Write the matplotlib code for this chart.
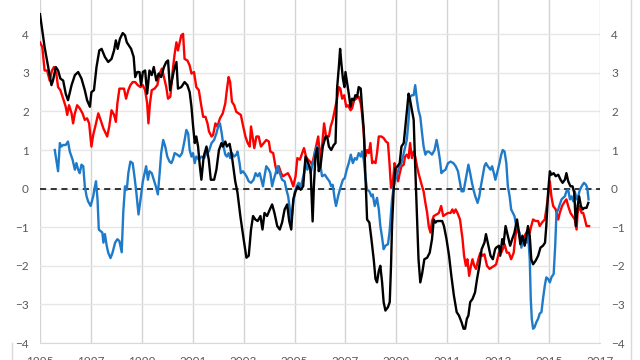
import matplotlib
matplotlib.use("Agg")
import matplotlib.pyplot as plt
from matplotlib.lines import Line2D

# values (decimal year, value)
black_x = [1995.00, 1995.18, 1995.32, 1995.45, 1995.51, 1995.62, 1995.71, 1995.80, 1995.91, 1996.01,
           1996.10, 1996.24, 1996.37, 1996.50, 1996.63, 1996.76, 1996.85, 1996.96, 1997.02, 1997.12,
           1997.22, 1997.33, 1997.42, 1997.55, 1997.68, 1997.81, 1997.91, 1997.98, 1998.05, 1998.14,
           1998.25, 1998.34, 1998.41, 1998.58, 1998.68, 1998.74, 1998.82, 1998.91, 1998.97, 1999.04,
           1999.13, 1999.21, 1999.30, 1999.39, 1999.47, 1999.57, 1999.66, 1999.76, 1999.87, 1999.96,
           2000.03, 2000.11, 2000.16, 2000.26, 2000.36, 2000.42, 2000.55, 2000.68, 2000.79, 2000.88,
           2000.95, 2001.01, 2001.08, 2001.14, 2001.21, 2001.28, 2001.34, 2001.43, 2001.54, 2001.63,
           2001.71, 2001.84, 2001.93, 2002.03, 2002.13, 2002.18, 2002.28, 2002.34, 2002.45, 2002.54,
           2002.67, 2002.76, 2002.87, 2003.00, 2003.11, 2003.20, 2003.29, 2003.37, 2003.46, 2003.55,
           2003.66, 2003.74, 2003.82, 2003.92, 2004.03, 2004.12, 2004.21, 2004.32, 2004.42, 2004.51,
           2004.61, 2004.71, 2004.79, 2004.87, 2004.95, 2005.04, 2005.13, 2005.24, 2005.34, 2005.43,
           2005.53, 2005.63, 2005.71, 2005.76, 2005.82, 2005.89, 2005.95, 2006.02, 2006.11, 2006.22,
           2006.28, 2006.35, 2006.44, 2006.54, 2006.61, 2006.67, 2006.74, 2006.79, 2006.84, 2006.90,
           2006.96, 2007.00, 2007.07, 2007.13, 2007.20, 2007.26, 2007.33, 2007.39, 2007.46, 2007.52,
           2007.60, 2007.65, 2007.72, 2007.78, 2007.85, 2007.94, 2008.02, 2008.11, 2008.18, 2008.24,
           2008.31, 2008.37, 2008.44, 2008.50, 2008.57, 2008.67, 2008.74, 2008.79, 2008.83, 2008.90,
           2008.96, 2009.05, 2009.13, 2009.20, 2009.29, 2009.38, 2009.48, 2009.54, 2009.61, 2009.68,
           2009.74, 2009.81, 2009.87, 2009.94, 2010.01, 2010.10, 2010.21, 2010.31, 2010.40, 2010.47,
           2010.54, 2010.60, 2010.71, 2010.80, 2010.87, 2010.97, 2011.07, 2011.16, 2011.26, 2011.37,
           2011.46, 2011.56, 2011.64, 2011.70, 2011.77, 2011.83, 2011.90, 2011.99, 2012.09, 2012.17,
           2012.26, 2012.35, 2012.46, 2012.52, 2012.59, 2012.70, 2012.79, 2012.88, 2012.92, 2013.03,
           2013.08, 2013.16, 2013.21, 2013.29, 2013.38, 2013.47, 2013.55, 2013.64, 2013.74, 2013.80,
           2013.87, 2013.95, 2014.04, 2014.11, 2014.17, 2014.24, 2014.30, 2014.37, 2014.47, 2014.57,
           2014.66, 2014.76, 2014.84, 2014.89, 2014.96, 2015.03, 2015.09, 2015.18, 2015.26, 2015.36,
           2015.45, 2015.53, 2015.62, 2015.68, 2015.75, 2015.84, 2015.92, 2015.99, 2016.05, 2016.12,
           2016.18, 2016.25, 2016.32, 2016.38, 2016.47, 2016.54]
black_y = [4.52, 3.67, 3.15, 2.68, 2.80, 3.15, 3.06, 2.85, 2.80, 2.46,
           2.29, 2.68, 2.94, 3.02, 2.85, 2.55, 2.29, 2.12, 2.50, 2.55,
           3.15, 3.58, 3.62, 3.41, 3.28, 3.36, 3.58, 3.84, 3.62, 3.88,
           4.03, 3.97, 3.79, 3.62, 3.41, 2.89, 3.02, 3.02, 2.68, 3.02,
           3.06, 2.46, 3.06, 2.94, 3.15, 2.80, 2.98, 2.89, 3.15, 3.28,
           3.32, 2.55, 2.72, 3.06, 3.28, 2.59, 2.63, 2.76, 2.68, 2.50,
           2.12, 1.65, 1.18, 1.35, 1.09, 0.58, 0.23, 0.83, 1.09, 0.75,
           0.23, 0.23, 0.49, 1.00, 1.18, 1.09, 1.22, 1.09, 1.16, 0.83,
           0.19, -0.11, -0.71, -1.31, -1.79, -1.74, -1.06, -0.71, -0.80, -0.84,
           -0.71, -1.06, -0.63, -0.71, -0.54, -0.41, -0.63, -0.97, -1.06, -0.88,
           -0.54, -0.41, -0.84, -1.06, -0.28, -0.07, 0.06, -0.03, 0.06, 0.83,
           0.66, 0.49, -0.85, 0.06, 0.83, 1.05, 0.45, 0.58, 1.09, 1.35,
           1.35, 1.09, 1.00, 1.13, 1.18, 2.59, 3.15, 3.62, 3.24, 2.85,
           2.63, 3.02, 2.72, 2.46, 2.12, 2.33, 2.29, 2.42, 2.38, 2.63,
           2.59, 2.12, 1.52, 0.40, -0.80, -0.88, -1.31, -1.83, -2.34, -2.43,
           -2.13, -2.00, -2.43, -2.94, -3.16, -3.07, -2.94, -2.00, -0.97, 0.06,
           0.53, 0.58, 0.66, 1.09, 1.18, 1.78, 2.46, 2.29, 2.03, 1.78,
           0.58, -0.71, -1.83, -2.43, -2.21, -1.83, -1.79, -1.66, -1.31, -0.80,
           -0.88, -0.84, -0.84, -0.84, -0.97, -1.31, -1.74, -2.26, -2.77, -3.20,
           -3.29, -3.46, -3.63, -3.63, -3.37, -3.29, -2.94, -2.86, -2.69, -2.34,
           -2.00, -1.57, -1.40, -1.18, -1.40, -1.74, -1.83, -1.57, -1.53, -1.48,
           -1.74, -1.31, -1.44, -0.97, -1.22, -1.48, -1.31, -1.14, -0.80, -1.06,
           -1.44, -1.22, -1.48, -1.22, -0.97, -1.22, -1.83, -1.96, -1.87, -1.74,
           -1.53, -1.48, -1.40, -0.97, -0.11, 0.45, 0.36, 0.40, 0.32, 0.36,
           0.23, 0.15, 0.23, 0.40, 0.19, 0.06, 0.06, -0.11, -0.97, -0.45,
           -0.20, -0.45, -0.54, -0.50, -0.50, -0.37]

red_x = [1995.00, 1995.09, 1995.18, 1995.28, 1995.38, 1995.47, 1995.55, 1995.64, 1995.71, 1995.80,
         1995.91, 1996.01, 1996.07, 1996.14, 1996.24, 1996.30, 1996.37, 1996.46, 1996.56, 1996.67,
         1996.76, 1996.85, 1996.93, 1997.02, 1997.09, 1997.20, 1997.29, 1997.38, 1997.49, 1997.58,
         1997.64, 1997.72, 1997.81, 1997.91, 1997.98, 1998.04, 1998.12, 1998.21, 1998.30, 1998.38,
         1998.47, 1998.55, 1998.64, 1998.74, 1998.84, 1998.95, 1999.04, 1999.13, 1999.21, 1999.26,
         1999.32, 1999.39, 1999.50, 1999.61, 1999.70, 1999.79, 1999.87, 1999.96, 2000.03, 2000.12,
         2000.20, 2000.29, 2000.36, 2000.42, 2000.49, 2000.55, 2000.62, 2000.68, 2000.79, 2000.88,
         2000.95, 2001.05, 2001.14, 2001.24, 2001.32, 2001.41, 2001.50, 2001.58, 2001.64, 2001.74,
         2001.80, 2001.89, 2001.97, 2002.07, 2002.18, 2002.28, 2002.34, 2002.41, 2002.47, 2002.54,
         2002.63, 2002.71, 2002.80, 2002.89, 2002.97, 2003.07, 2003.16, 2003.24, 2003.29, 2003.36,
         2003.42, 2003.50, 2003.59, 2003.68, 2003.79, 2003.89, 2003.99, 2004.05, 2004.16, 2004.25,
         2004.32, 2004.38, 2004.47, 2004.55, 2004.64, 2004.74, 2004.84, 2004.95, 2005.04, 2005.11,
         2005.21, 2005.30, 2005.37, 2005.45, 2005.53, 2005.61, 2005.69, 2005.76, 2005.85, 2005.93,
         2006.01, 2006.08, 2006.16, 2006.24, 2006.35, 2006.42, 2006.50, 2006.58, 2006.66, 2006.74,
         2006.80, 2006.87, 2006.95, 2007.03, 2007.10, 2007.20, 2007.26, 2007.34, 2007.42, 2007.52,
         2007.60, 2007.65, 2007.72, 2007.78, 2007.85, 2007.92, 2007.98, 2008.05, 2008.11, 2008.18,
         2008.24, 2008.31, 2008.41, 2008.50, 2008.59, 2008.67, 2008.73, 2008.79, 2008.87, 2008.93,
         2008.99, 2009.07, 2009.12, 2009.20, 2009.29, 2009.34, 2009.41, 2009.48, 2009.54, 2009.61,
         2009.68, 2009.74, 2009.81, 2009.87, 2009.94, 2010.01, 2010.07, 2010.14, 2010.21, 2010.27,
         2010.34, 2010.40, 2010.47, 2010.58, 2010.67, 2010.76, 2010.84, 2010.93, 2011.03, 2011.13,
         2011.20, 2011.26, 2011.33, 2011.40, 2011.50, 2011.60, 2011.66, 2011.73, 2011.79, 2011.86,
         2011.93, 2011.99, 2012.06, 2012.13, 2012.22, 2012.30, 2012.39, 2012.46, 2012.56, 2012.66,
         2012.75, 2012.85, 2012.92, 2013.03, 2013.12, 2013.18, 2013.25, 2013.34, 2013.42, 2013.51,
         2013.61, 2013.68, 2013.74, 2013.82, 2013.91, 2013.97, 2014.04, 2014.11, 2014.17, 2014.24,
         2014.30, 2014.37, 2014.47, 2014.57, 2014.63, 2014.72, 2014.83, 2014.89, 2014.96, 2015.03,
         2015.09, 2015.16, 2015.26, 2015.36, 2015.42, 2015.51, 2015.62, 2015.68, 2015.75, 2015.84,
         2015.92, 2016.01, 2016.08, 2016.12, 2016.18, 2016.28, 2016.34, 2016.41, 2016.47, 2016.57]
red_y = [3.79, 3.67, 3.06, 3.06, 2.80, 3.06, 3.15, 2.98, 2.63, 2.55,
         2.33, 2.12, 1.91, 2.16, 1.95, 1.69, 1.95, 2.16, 2.08, 1.95,
         1.78, 1.82, 1.69, 1.09, 1.39, 1.69, 1.95, 1.78, 1.56, 1.43,
         1.35, 1.61, 2.03, 1.91, 1.73, 2.21, 2.59, 2.59, 2.59, 2.33,
         2.55, 2.68, 2.76, 2.76, 2.68, 2.63, 2.68, 2.55, 2.21, 1.69,
         2.21, 2.55, 2.59, 2.68, 2.98, 3.11, 2.89, 2.63, 2.33, 2.38,
         2.98, 3.49, 3.79, 3.58, 3.79, 3.97, 4.01, 3.36, 3.32, 3.19,
         2.98, 3.02, 2.63, 2.55, 2.21, 1.86, 1.86, 1.69, 1.48, 1.35,
         1.39, 1.69, 1.61, 1.82, 1.95, 2.21, 2.55, 2.89, 2.76, 2.25,
         2.16, 1.99, 1.95, 1.91, 1.65, 1.35, 1.18, 1.09, 1.61, 1.31,
         1.05, 1.35, 1.35, 1.09, 1.18, 1.26, 1.22, 0.96, 0.92, 0.58,
         0.40, 0.58, 0.40, 0.32, 0.36, 0.40, 0.27, 0.06, 0.32, 0.79,
         0.75, 0.92, 1.05, 0.83, 0.75, 0.70, 0.62, 0.83, 1.09, 1.35,
         0.75, 1.09, 1.69, 1.35, 1.35, 1.61, 1.78, 2.03, 2.29, 2.63,
         2.59, 2.33, 2.42, 2.12, 2.16, 2.03, 2.08, 2.29, 2.33, 2.38,
         2.21, 1.95, 1.43, 0.83, 1.00, 0.92, 1.18, 0.66, 0.70, 0.66,
         0.92, 1.35, 1.35, 1.31, 1.22, 1.18, 0.66, 0.02, 0.23, 0.66,
         0.49, 0.19, 0.36, 0.58, 0.62, 0.83, 0.88, 0.79, 1.18, 0.79,
         0.96, 0.83, 0.58, 0.40, 0.23, 0.06, -0.07, -0.37, -0.63, -0.97,
         -1.14, -0.84, -0.71, -0.67, -0.63, -0.45, -0.71, -0.67, -0.63, -0.63,
         -0.54, -0.63, -0.54, -0.63, -0.80, -1.31, -1.74, -2.00, -1.83, -2.26,
         -2.00, -1.83, -2.00, -2.08, -1.83, -1.66, -1.74, -1.70, -2.00, -2.08,
         -2.04, -2.00, -1.96, -1.66, -1.66, -1.57, -1.44, -1.66, -1.66, -1.83,
         -1.66, -1.22, -1.06, -1.14, -1.48, -1.31, -1.22, -1.14, -1.06, -1.14,
         -0.97, -0.80, -0.84, -0.84, -0.97, -0.88, -0.80, -0.54, -0.20, 0.19,
         -0.20, -0.45, -0.54, -0.80, -0.63, -0.45, -0.33, -0.28, -0.45, -0.63,
         -0.71, -0.80, -1.06, -0.63, -0.45, -0.63, -0.63, -0.80, -0.97, -0.97]

blue_x = [1995.58, 1995.64, 1995.71, 1995.78, 1995.84, 1995.91, 1996.01, 1996.10, 1996.17, 1996.28,
          1996.37, 1996.43, 1996.50, 1996.56, 1996.63, 1996.70, 1996.76, 1996.83, 1996.89, 1996.99,
          1997.09, 1997.16, 1997.20, 1997.26, 1997.31, 1997.38, 1997.45, 1997.49, 1997.55, 1997.62,
          1997.68, 1997.77, 1997.85, 1997.95, 1998.04, 1998.12, 1998.21, 1998.27, 1998.34, 1998.41,
          1998.47, 1998.55, 1998.64, 1998.71, 1998.78, 1998.87, 1998.95, 1999.04, 1999.11, 1999.17,
          1999.24, 1999.30, 1999.39, 1999.47, 1999.55, 1999.63, 1999.70, 1999.76, 1999.84, 1999.92,
          2000.00, 2000.09, 2000.16, 2000.22, 2000.29, 2000.39, 2000.49, 2000.58, 2000.66, 2000.75,
          2000.82, 2000.88, 2000.95, 2001.01, 2001.08, 2001.14, 2001.24, 2001.34, 2001.45, 2001.54,
          2001.63, 2001.74, 2001.84, 2001.93, 2002.00, 2002.07, 2002.14, 2002.21, 2002.28, 2002.34,
          2002.41, 2002.47, 2002.54, 2002.63, 2002.71, 2002.76, 2002.84, 2002.89, 2002.97, 2003.03,
          2003.11, 2003.20, 2003.29, 2003.39, 2003.47, 2003.55, 2003.63, 2003.68, 2003.76, 2003.82,
          2003.89, 2003.99, 2004.05, 2004.12, 2004.18, 2004.28, 2004.34, 2004.42, 2004.51, 2004.61,
          2004.68, 2004.75, 2004.80, 2004.87, 2004.95, 2005.00, 2005.08, 2005.16, 2005.24, 2005.30,
          2005.37, 2005.43, 2005.50, 2005.57, 2005.63, 2005.69, 2005.76, 2005.82, 2005.89, 2005.95,
          2006.02, 2006.08, 2006.19, 2006.28, 2006.37, 2006.44, 2006.50, 2006.58, 2006.63, 2006.71,
          2006.80, 2006.90, 2006.97, 2007.05, 2007.13, 2007.21, 2007.29, 2007.37, 2007.44, 2007.52,
          2007.60, 2007.65, 2007.72, 2007.78, 2007.85, 2007.94, 2008.02, 2008.07, 2008.15, 2008.24,
          2008.31, 2008.37, 2008.44, 2008.50, 2008.57, 2008.67, 2008.73, 2008.78, 2008.83, 2008.90,
          2008.96, 2009.04, 2009.12, 2009.20, 2009.41, 2009.48, 2009.54, 2009.61, 2009.68, 2009.74,
          2009.81, 2009.87, 2009.94, 2010.01, 2010.07, 2010.14, 2010.21, 2010.27, 2010.34, 2010.40,
          2010.50, 2010.58, 2010.64, 2010.71, 2010.77, 2010.84, 2010.93, 2011.03, 2011.13, 2011.24,
          2011.33, 2011.42, 2011.49, 2011.56, 2011.64, 2011.70, 2011.77, 2011.83, 2011.90, 2011.97,
          2012.03, 2012.10, 2012.19, 2012.26, 2012.32, 2012.39, 2012.46, 2012.52, 2012.59, 2012.70,
          2012.76, 2012.83, 2012.89, 2012.99, 2013.05, 2013.12, 2013.18, 2013.25, 2013.32, 2013.38,
          2013.45, 2013.51, 2013.58, 2013.64, 2013.71, 2013.78, 2013.84, 2013.91, 2013.97, 2014.04,
          2014.11, 2014.17, 2014.24, 2014.28, 2014.32, 2014.37, 2014.43, 2014.50, 2014.57, 2014.63,
          2014.70, 2014.76, 2014.83, 2014.89, 2014.96, 2015.03, 2015.09, 2015.18, 2015.24, 2015.29,
          2015.36, 2015.42, 2015.49, 2015.55, 2015.62, 2015.68, 2015.75, 2015.82, 2015.88, 2015.95,
          2016.01, 2016.08, 2016.14, 2016.21, 2016.28, 2016.37, 2016.45, 2016.50, 2016.55]
blue_y = [1.00, 0.75, 0.45, 1.18, 1.09, 1.13, 1.13, 1.22, 0.96, 0.75,
          0.49, 0.66, 0.49, 0.40, 0.62, 0.58, 0.06, -0.20, -0.33, -0.45,
          -0.20, 0.06, 0.19, -0.28, -1.06, -1.10, -1.14, -1.40, -1.18, -1.48,
          -1.66, -1.80, -1.66, -1.40, -1.31, -1.36, -1.65, -0.63, 0.06, -0.03,
          0.40, 0.70, 0.66, 0.32, -0.07, -0.67, -0.28, 0.19, 0.40, 0.58,
          0.23, 0.45, 0.40, 0.23, 0.06, -0.15, 0.40, 0.92, 1.26, 1.09,
          0.83, 0.70, 0.66, 0.75, 0.92, 0.88, 0.83, 0.92, 1.18, 1.52,
          1.43, 1.00, 0.83, 0.92, 0.66, 0.83, 0.75, 0.83, 0.79, 0.92,
          0.96, 1.18, 1.26, 1.43, 1.61, 1.69, 1.43, 1.09, 0.88, 0.83,
          0.92, 0.79, 0.92, 0.83, 0.88, 0.96, 0.66, 0.40, 0.45, 0.40,
          0.32, 0.19, 0.15, 0.23, 0.40, 0.32, 0.40, 0.27, 0.06, 0.32,
          0.58, 0.49, 0.40, 0.06, 0.23, 0.45, 0.58, 0.40, 0.23, 0.19,
          -0.03, -0.20, -0.45, -0.84, -0.37, -0.11, 0.06, 0.15, 0.06, 0.19,
          0.40, 0.66, 0.49, 0.62, 0.40, 0.58, 0.75, 1.00, 1.09, 0.83,
          0.58, 0.32, 0.36, 0.27, 0.19, 0.06, 0.10, -0.28, -0.45, -0.20,
          0.02, 0.23, 0.27, 0.49, 0.66, 0.88, 0.66, 0.79, 0.75, 0.92,
          0.83, 0.96, 0.75, 0.32, -0.03, -0.07, -0.20, -0.15, -0.45, -0.24,
          -0.54, -0.97, -1.27, -1.57, -1.48, -1.44, -1.14, -0.71, -0.28, 0.06,
          0.23, 0.40, 0.58, 0.66, 1.26, 1.78, 2.38, 2.42, 2.42, 2.68,
          2.29, 2.03, 1.86, 1.43, 1.09, 0.88, 0.96, 0.96, 0.92, 0.88,
          1.00, 1.26, 1.05, 0.75, 0.40, 0.45, 0.49, 0.66, 0.70, 0.66,
          0.58, 0.45, 0.19, -0.07, -0.07, 0.15, 0.40, 0.62, 0.40, 0.15,
          -0.03, -0.20, -0.37, -0.20, 0.06, 0.32, 0.58, 0.66, 0.58, 0.49,
          0.58, 0.40, 0.23, 0.49, 0.66, 0.88, 1.00, 0.96, 0.66, 0.06,
          -0.20, -0.54, -0.63, -0.71, -0.97, -1.06, -1.14, -1.53, -1.31, -1.31,
          -1.40, -1.14, -1.83, -2.86, -3.37, -3.63, -3.59, -3.46, -3.37, -3.24,
          -3.20, -2.86, -2.52, -2.30, -2.34, -2.43, -2.30, -2.21, -1.48, -0.63,
          -0.54, -0.41, -0.28, -0.24, -0.20, -0.07, -0.03, -0.28, -0.20, -0.33,
          -0.07, -0.28, -0.20, -0.03, 0.06, 0.15, 0.10, 0.02, -0.28]

year_ticks = list(range(1995, 2018, 2))
value_ticks = list(range(-4, 6))

plt.rcParams['font.family'] = ['Lato', 'DejaVu Sans']

fig = plt.figure(figsize=(6.4, 3.6), dpi=100)
ax = fig.add_axes([0.0625, 0.0472, 0.875, 0.965])

ax.plot(red_x, red_y, color='#ff0000', lw=1.7)
ax.plot(blue_x, blue_y, color='#1f7bc9', lw=1.7)
ax.plot(black_x, black_y, color='#000000', lw=1.7)
ax.axhline(0, color='black', lw=1.1, ls=(0, (4, 3)), zorder=1)

ax.set_xlim(1995, 2017)
ax.set_ylim(-4, 5)
ax.set_xticks(year_ticks)
ax.set_yticks(value_ticks)
ax.grid(axis='y', color='#e6e6e6', lw=1.0)
ax.grid(axis='x', color='#d4d4d4', lw=1.0)
ax.set_axisbelow(True)
for s in ['top', 'left', 'right']:
    ax.spines[s].set_visible(False)
ax.spines['bottom'].set_color('#d9d9d9')

ax.tick_params(axis='both', length=0, labelsize=8.5, labelcolor='#595959')
ax.tick_params(axis='y', pad=8, labelright=True)
ax.tick_params(axis='x', pad=9)

# chart border
fig.add_artist(Line2D([631 / 640, 631 / 640], [0, 1], color='#d9d9d9', lw=1.0))
fig.add_artist(Line2D([12 / 640, 12 / 640], [0, 17 / 360], color='#d9d9d9', lw=1.0))

fig.savefig('out.png', dpi=100)
